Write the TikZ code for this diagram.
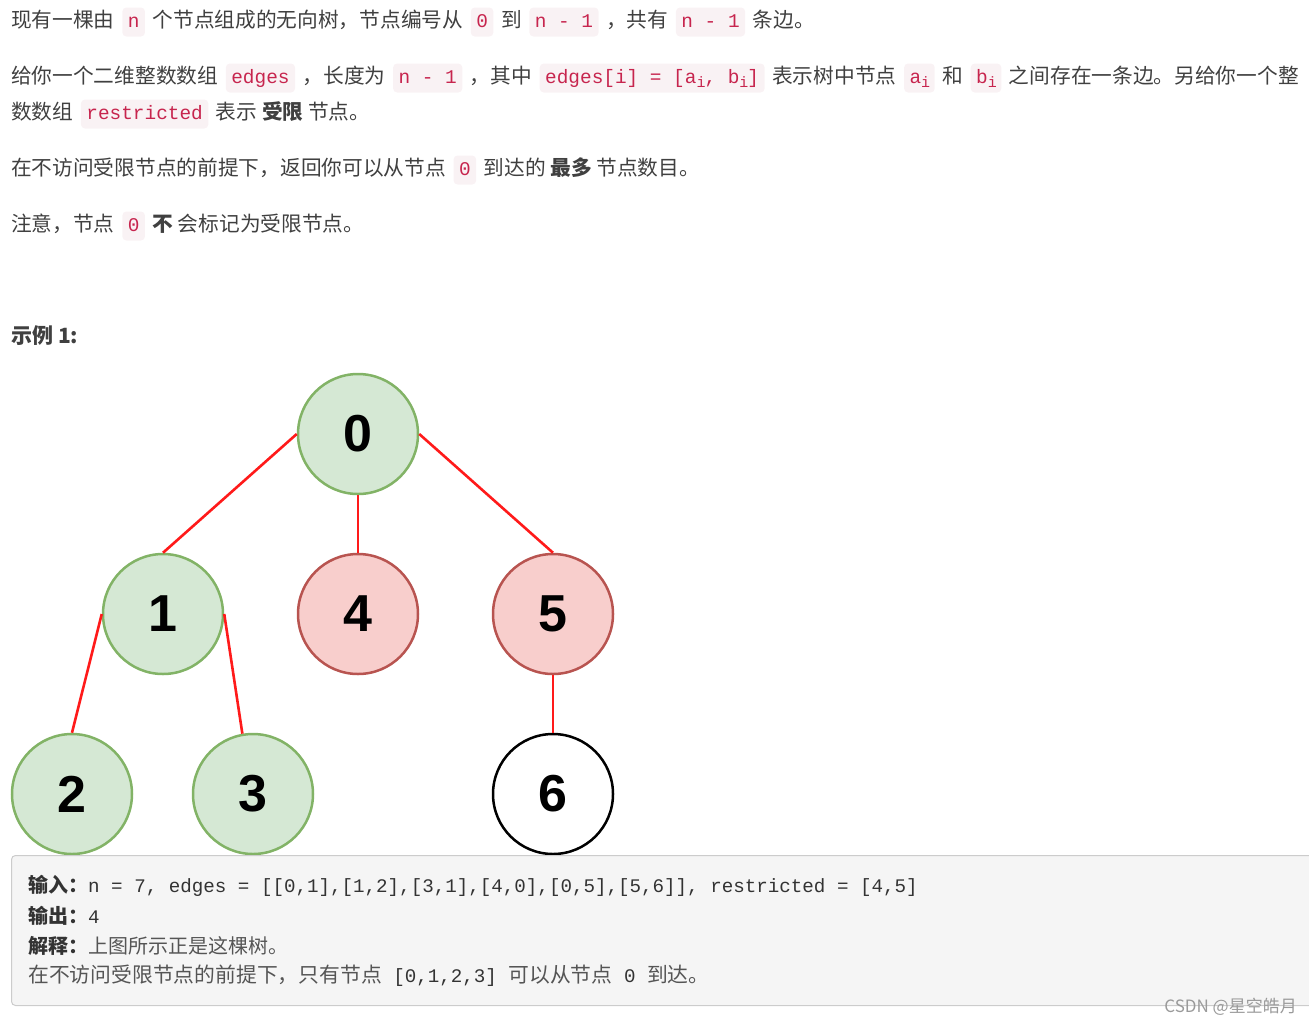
\documentclass[tikz,border=0pt]{standalone}
\usepackage{fontspec}
\setmainfont{Noto Sans CJK SC}
\newfontfamily\codefont{Liberation Mono}
\newfontfamily\numfont{Liberation Sans}
\usetikzlibrary{positioning}
\definecolor{txtgray}{HTML}{404040}
\definecolor{extxt}{HTML}{333333}
\definecolor{exlight}{HTML}{555555}
\definecolor{codered}{HTML}{C7254E}
\definecolor{chipbg}{HTML}{F9F2F4}
\definecolor{okfill}{HTML}{D5E8D4}
\definecolor{okline}{HTML}{82B366}
\definecolor{badfill}{HTML}{F8CECC}
\definecolor{badline}{HTML}{B85450}
\definecolor{boxfill}{HTML}{F5F5F5}
\definecolor{boxline}{HTML}{CCCCCC}
\definecolor{edgered}{HTML}{FF1A1A}
\definecolor{markgray}{HTML}{9A9A9A}

\tikzset{chipbox/.style={anchor=center, fill=chipbg, rounded corners=4pt, text=codered,
    inner xsep=5.5pt, inner ysep=5pt, text height=15pt, text depth=4pt,
    font=\codefont\fontsize{19.4}{19.4}\selectfont}}
\newcommand\chip[1]{\hspace{3pt}\tikz[baseline=(cc.base)]\node[chipbox](cc){#1};\hspace{3pt}}
\newcommand\subi[1]{\makebox[8pt][l]{\raisebox{-4pt}{\fontsize{15}{15}\selectfont #1}}}
\newcommand\excode{\codefont\fontsize{19.2}{19.2}\selectfont\color{extxt}}

\begin{document}
\begin{tikzpicture}[x=1pt, y=-1pt,
        txtline/.style={anchor=west, inner sep=0pt, text=txtgray, font=\fontsize{20.7}{24}\selectfont},
        exline/.style={anchor=west, inner sep=0pt, text=exlight, font=\fontsize{20}{22}\selectfont},
        tnode/.style={circle, minimum size=120pt, inner sep=0pt, line width=2.5pt, font=\numfont\bfseries\fontsize{52}{52}\selectfont},
        ok/.style={tnode, draw=okline, fill=okfill},
        bad/.style={tnode, draw=badline, fill=badfill},
        free/.style={tnode, draw=black, fill=white},
        link/.style={draw=edgered, line width=2.6pt}
    ]
        \useasboundingbox (0,0) rectangle (1309,1026);
        \clip (0,0) rectangle (1309,1026);

        % TEXT
        \node[txtline] (l1) at (11,22) {现有一棵由 \chip{n} 个节点组成的无向树，节点编号从 \chip{0} 到 \chip{n - 1} ，共有 \chip{n - 1} 条边。};
        \node[txtline] (l2) at (11,78) {给你一个二维整数数组 \chip{edges} ，长度为 \chip{n - 1} ，其中 \chip{edges[i] = [a\subi{i}, b\subi{i}]} 表示树中节点 \chip{a\subi{i}} 和 \chip{b\subi{i}} 之间存在一条边。另给你一个整};
        \node[txtline] (l3) at (11,114) {数数组 \chip{restricted} 表示 \textbf{受限} 节点。};
        \node[txtline] (l4) at (11,170) {在不访问受限节点的前提下，返回你可以从节点 \chip{0} 到达的 \textbf{最多} 节点数目。};
        \node[txtline] (l5) at (11,226) {注意，节点 \chip{0} \textbf{不} 会标记为受限节点。};
        \node[txtline, font=\fontsize{21}{24}\selectfont] (l6) at (11,336) {\textbf{示例 1:}};

        % TREE
        \node[ok] (n0) at (358,434) {0};
        \node[ok] (n1) at (163,614) {1};
        \node[bad] (n4) at (358,614) {4};
        \node[bad] (n5) at (553,614) {5};
        \node[ok] (n2) at (72,794) {2};
        \node[ok] (n3) at (253,794) {3};
        \node[free] (n6) at (553,794) {6};

        \draw[link] (n0.west) -- (n1.north);
        \draw[link] (n0.south) -- (n4.north);
        \draw[link] (n0.east) -- (n5.north);
        \draw[link] (n1.west) -- (n2.north);
        \draw[link] (n1.east) -- (n3.100);
        \draw[link] (n5.south) -- (n6.north);

        % EXAMPLE BOX
        \node[anchor=north west, draw=boxline, fill=boxfill, rounded corners=4pt, line width=1pt,
              minimum width=1340pt, minimum height=150pt] (ex) at (11,855) {};
        \node[exline] (in) at (28,886) {\textbf{\color{extxt}输入：}{\excode n = 7, edges = [[0,1],[1,2],[3,1],[4,0],[0,5],[5,6]], restricted = [4,5]}};
        \node[exline] (out) at (28,916) {\textbf{\color{extxt}输出：}{\excode 4}};
        \node[exline] (why) at (28,946) {\textbf{\color{extxt}解释：}上图所示正是这棵树。};
        \node[exline, font=\fontsize{20.8}{22}\selectfont] (why2) at (28,976) {在不访问受限节点的前提下，只有节点{\excode\ [0,1,2,3]\ }可以从节点{\excode\ 0\ }到达。};

        \node[anchor=east, inner sep=0pt, text=markgray, font=\fontsize{17}{20}\selectfont] (mark) at (1297,1007) {CSDN @星空皓月};
    \end{tikzpicture}
\end{document}
